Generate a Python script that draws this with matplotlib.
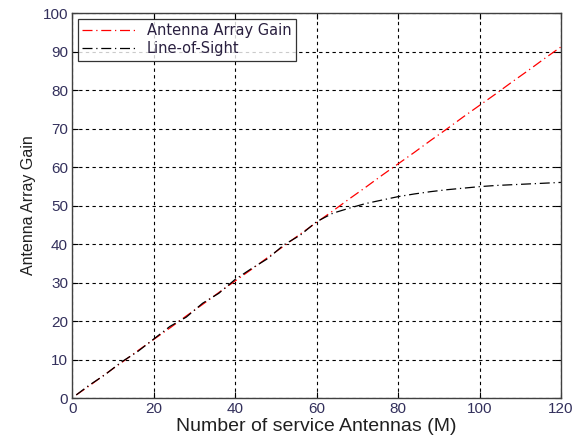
import matplotlib
matplotlib.use("Agg")
from matplotlib import pyplot as plt

plt.rcParams['font.family'] = ['Liberation Sans', 'DejaVu Sans']

# values
antennas = [1, 4, 8, 12, 16, 20, 24, 28, 32, 36, 40, 44, 48, 52, 56, 60,
            64, 68, 72, 76, 80, 84, 88, 92, 96, 100, 104, 108, 112, 116, 120]
array_gain = [0.8, 3.0, 6.1, 9.1, 12.2, 15.2, 18.2, 21.3, 24.3, 27.4, 30.4,
              33.4, 36.5, 39.5, 42.6, 45.6, 48.6, 51.7, 54.7, 57.8, 60.8,
              63.8, 66.9, 69.9, 73.0, 76.0, 79.0, 82.1, 85.1, 88.2, 91.2]
los_gain = [0.8, 3.2, 6.0, 9.3, 12.0, 15.3, 18.6, 21.0, 24.6, 27.2, 30.8,
            33.6, 36.2, 39.8, 42.3, 45.8, 48.0, 49.3, 50.5, 51.4, 52.3,
            53.0, 53.6, 54.1, 54.5, 54.9, 55.2, 55.4, 55.6, 55.8, 56.0]
xticks = [0, 20, 40, 60, 80, 100, 120]
yticks = [0, 10, 20, 30, 40, 50, 60, 70, 80, 90, 100]

fig = plt.figure(figsize=(5.73, 4.41), dpi=100)
ax = fig.add_axes([0.126, 0.0975, 0.853, 0.873])

ax.plot(antennas, array_gain, color='red', lw=0.9,
        linestyle=(0, (8, 3, 1, 3)), label='Antenna Array Gain')
ax.plot(antennas, los_gain, color='black', lw=0.9,
        linestyle=(0, (8, 3, 1, 3)), label='Line-of-Sight')

ax.set_xlim(0, 120)
ax.set_ylim(0, 100)
ax.set_xticks(xticks)
ax.set_yticks(yticks)
ax.grid(True, color='black', linestyle=(0, (3, 3)), lw=0.8)
ax.tick_params(direction='in', top=True, right=True, length=4,
               labelsize=11, labelcolor='#33305c', pad=3)
for s in ax.spines.values():
    s.set_color('#404040')
    s.set_linewidth(1.0)

ax.set_xlabel('Number of service Antennas (M)', fontsize=14, color='#202020', labelpad=1)
ax.set_ylabel('Antenna Array Gain', fontsize=11.5, color='#202020', labelpad=5)

leg = ax.legend(loc='upper left', prop={'family': 'DejaVu Sans', 'size': 10.5},
                frameon=True, fancybox=False,
                edgecolor='black', handlelength=3.7, handletextpad=0.7,
                borderpad=0.3, labelspacing=0.2, borderaxespad=0.4)
leg.get_frame().set_linewidth(0.9)
for t in leg.get_texts():
    t.set_color('#2a2040')

fig.savefig('out.png', dpi=100)
